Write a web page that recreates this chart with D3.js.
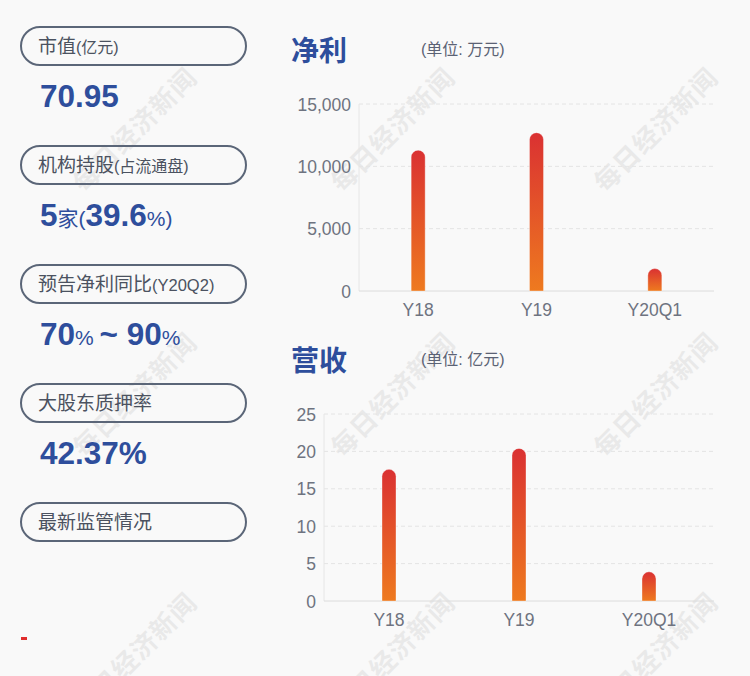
<!DOCTYPE html>
<html>
<head>
<meta charset="utf-8">
<script src="https://d3js.org/d3.v7.min.js"></script>
<style>
  body { margin: 0; background: #f9f9f9; }
  svg { display: block; font-family: "Liberation Sans", "Noto Sans CJK SC", sans-serif; }
  .grid line { stroke: #e4e4e4; stroke-dasharray: 4 3; }
  .tick text { fill: #6e7380; font-size: 17.5px; }
</style>
<title>净利 营收</title>
</head>
<body>
<script>
// data
const periods = ["Y18", "Y19", "Y20Q1"];
const profit = [11300, 12700, 1800];      // 万元
const revenue = [17.6, 20.4, 3.9];        // 亿元
const profitTicks = [0, 5000, 10000, 15000];
const revenueTicks = [0, 5, 10, 15, 20, 25];

// left panel items: label parts and value parts ([text, big?])
const pills = [
  [["市值", 19], ["(亿元)", 16]],
  [["机构持股", 19], ["(占流通盘)", 16]],
  [["预告净利同比", 19], ["(Y20Q2)", 16.5]],
  [["大股东质押率", 19]],
  [["最新监管情况", 19]]
];
const values = [
  [["70.95", true]],
  [["5", true], ["家(", false], ["39.6", true], ["%)", false]],
  [["70", true], ["% ", false], ["~ 90", true], ["%", false]],
  [["42.37%", true]],
  []
];

const W = 750, H = 676;
const svg = d3.select("body").append("svg").attr("width", W).attr("height", H);
svg.append("rect").attr("width", W).attr("height", H).attr("fill", "#f9f9f9");

const defs = svg.append("defs");
const grad = defs.append("linearGradient").attr("id", "barGrad")
  .attr("x1", 0).attr("y1", 0).attr("x2", 0).attr("y2", 1);
grad.append("stop").attr("offset", "0%").attr("stop-color", "#da3132");
grad.append("stop").attr("offset", "100%").attr("stop-color", "#ee7a1f");

// watermark layer
const wmX = [135, 393, 656], wmY = [130, 395, 655];
const wm = svg.append("g");
wmX.forEach(x => wmY.forEach(y => {
  wm.append("text")
    .attr("transform", `translate(${x},${y}) rotate(-45)`)
    .attr("text-anchor", "middle").attr("dy", "0.35em")
    .attr("font-family", "Noto Sans CJK SC").attr("font-weight", "bold")
    .attr("font-size", 26).attr("fill", "#000").attr("opacity", 0.06)
    .attr("letter-spacing", 1)
    .text("每日经济新闻");
}));

// left panel
const pillTop = d3.scaleLinear().domain([0, 1]).range([27, 146]);
pills.forEach((parts, i) => {
  const y0 = pillTop(i);
  svg.append("rect")
    .attr("x", 21).attr("y", y0).attr("width", 225).attr("height", 38)
    .attr("rx", 19).attr("fill", "none")
    .attr("stroke", "#5b6678").attr("stroke-width", 2);
  const t = svg.append("text").attr("x", 38).attr("y", y0 + 26)
    .attr("fill", "#4b5260");
  parts.forEach(p => t.append("tspan").attr("font-size", p[1]).text(p[0]));

  const v = svg.append("text").attr("x", 40).attr("y", y0 + 80)
    .attr("fill", "#2e4e9c");
  values[i].forEach(p => v.append("tspan")
    .attr("font-size", p[1] ? 31.5 : 21)
    .attr("font-weight", p[1] ? "bold" : "normal")
    .text(p[0]));
});

svg.append("rect").attr("x", 21).attr("y", 637).attr("width", 6).attr("height", 3)
  .attr("fill", "#e02d2d");

// bar chart
function barChart(cfg) {
  const g = svg.append("g");
  g.append("text").attr("x", 291).attr("y", cfg.titleY)
    .attr("font-family", "Noto Sans CJK SC").attr("font-weight", "bold")
    .attr("font-size", 28).attr("fill", "#2e4e9c").text(cfg.title);
  g.append("text").attr("x", 421).attr("y", cfg.titleY - 6)
    .attr("font-size", 16).attr("fill", "#5b6274").text(cfg.unit);

  const x = d3.scaleBand().domain(periods).range([cfg.left, 714]);
  const y = d3.scaleLinear().domain([0, d3.max(cfg.ticks)]).range([cfg.bottom, cfg.top]);

  // grid
  g.append("g").attr("class", "grid")
    .selectAll("line").data(cfg.ticks.slice(1)).join("line")
    .attr("x1", cfg.left).attr("x2", 714)
    .attr("y1", d => y(d)).attr("y2", d => y(d));
  g.append("line").attr("x1", cfg.left).attr("x2", cfg.left)
    .attr("y1", cfg.top).attr("y2", cfg.bottom).attr("stroke", "#e6e6e6");
  g.append("line").attr("x1", cfg.left).attr("x2", 714)
    .attr("y1", cfg.bottom).attr("y2", cfg.bottom).attr("stroke", "#dcdcdc");

  const yAxis = g.append("g").attr("transform", `translate(${cfg.left - 8},0)`)
    .call(d3.axisLeft(y).tickValues(cfg.ticks).tickSize(0).tickPadding(0)
      .tickFormat(d3.format(",")));
  yAxis.select(".domain").remove();
  yAxis.selectAll("text").attr("dy", "0.35em");

  const xAxis = g.append("g").attr("transform", `translate(0,${cfg.bottom})`)
    .call(d3.axisBottom(x).tickSize(0).tickPadding(9));
  xAxis.select(".domain").remove();
  xAxis.selectAll("text").attr("dy", "0.9em");

  const bw = 14, r = 7;
  g.selectAll(".bar").data(cfg.values).join("path")
    .attr("fill", "url(#barGrad)")
    .attr("stroke", "rgba(255,255,255,0.35)").attr("stroke-width", 1)
    .attr("d", (d, i) => {
      const cx = x(periods[i]) + x.bandwidth() / 2;
      const x0 = cx - bw / 2, x1 = cx + bw / 2;
      const yt = y(d), yb = cfg.bottom;
      return `M${x0},${yb}V${yt + r}A${r},${r} 0 0 1 ${x1},${yt + r}V${yb}Z`;
    });
}

barChart({ title: "净利", unit: "(单位: 万元)", titleY: 61,
  values: profit, ticks: profitTicks, left: 359, top: 104, bottom: 291 });
barChart({ title: "营收", unit: "(单位: 亿元)", titleY: 371,
  values: revenue, ticks: revenueTicks, left: 324, top: 414, bottom: 601 });
</script>
</body>
</html>
